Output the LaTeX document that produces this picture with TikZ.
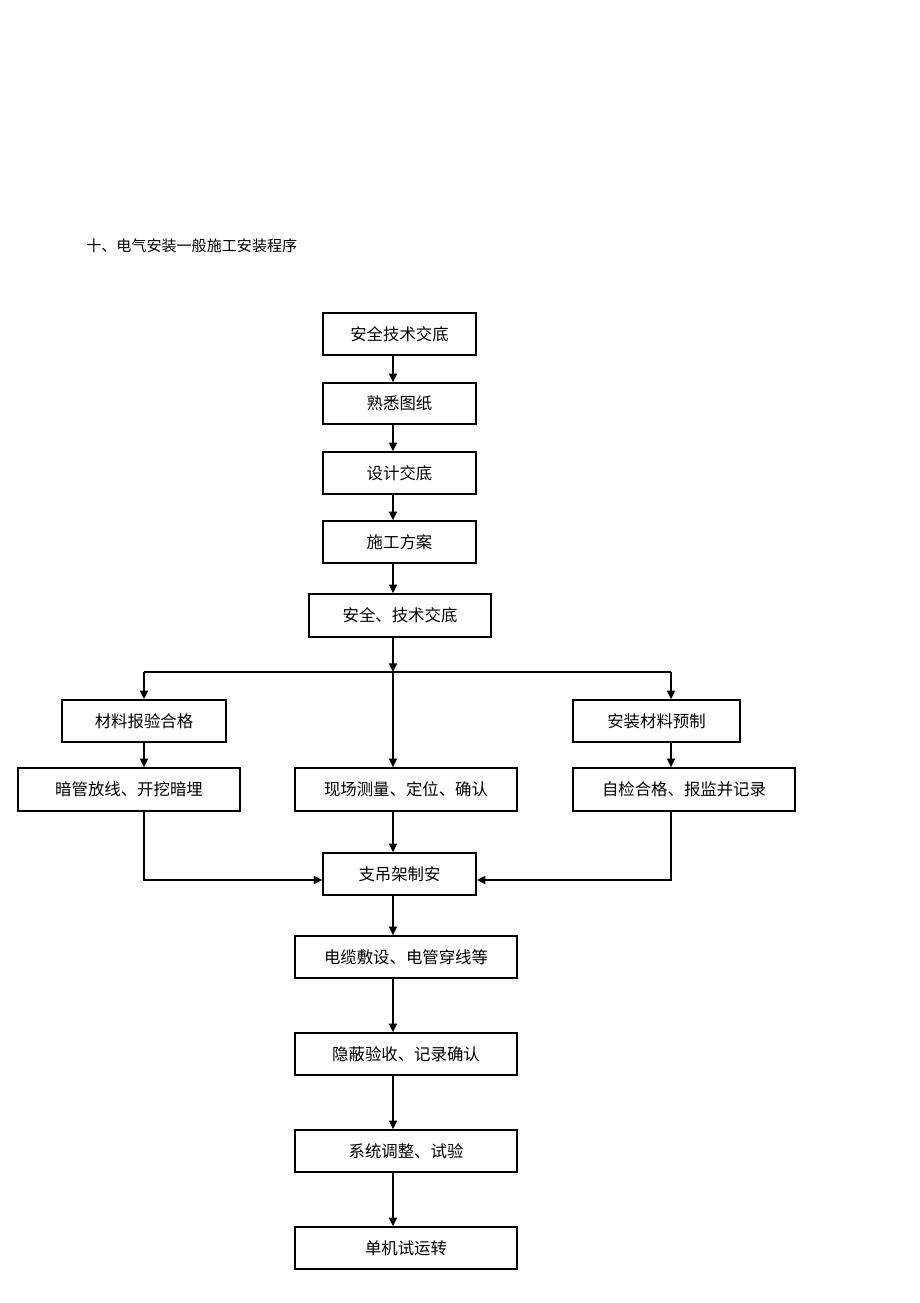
\documentclass[tikz,border=0pt]{standalone}
\usepackage{fontspec}
\newfontfamily\cjk{Noto Sans CJK SC}
\usetikzlibrary{arrows.meta}
\tikzset{
  box/.style={draw, line width=1.1pt, inner sep=0pt, align=center,
    font=\cjk\fontsize{12.3}{14}\selectfont},
  arr/.style={line width=1.3pt, -{Triangle[length=6.5pt,width=6pt]}},
  ln/.style={line width=1.3pt}
}
\newcommand\bx[6]{\node[box, minimum width=#4*0.75pt, minimum height=#5*0.75pt] (#1) at (#2,#3) {#6};}
\begin{document}
\begin{tikzpicture}[x=0.75pt,y=-0.75pt]
\useasboundingbox (0,0) rectangle (920,1303);
\node[anchor=west, inner sep=0pt, font=\cjk\fontsize{11.3}{13}\selectfont] (title) at (86,246) {十、电气安装一般施工安装程序};
\bx{a}{399.5}{334}{153}{42}{安全技术交底}
\bx{b}{399.5}{403.5}{153}{41}{熟悉图纸}
\bx{c}{399.5}{473}{153}{42}{设计交底}
\bx{d}{399.5}{542}{153}{42}{施工方案}
\bx{e}{400}{615.5}{182}{43}{安全、技术交底}
\bx{f}{144}{721}{164}{42}{材料报验合格}
\bx{g}{656.5}{721}{167}{42}{安装材料预制}
\bx{h}{129}{789.5}{222}{43}{暗管放线、开挖暗埋}
\bx{i}{406}{789.5}{222}{43}{现场测量、定位、确认}
\bx{j}{684}{789.5}{222}{43}{自检合格、报监并记录}
\bx{k}{399.5}{874}{153}{42}{支吊架制安}
\bx{l}{406}{957}{222}{42}{电缆敷设、电管穿线等}
\bx{m}{406}{1054}{222}{42}{隐蔽验收、记录确认}
\bx{n}{406}{1151}{222}{42}{系统调整、试验}
\bx{o}{406}{1248}{222}{42}{单机试运转}
\coordinate (sp) at (393,0);
\coordinate (jc) at (393,672);
\coordinate (jl) at (144,672);
\coordinate (jr) at (671,672);
\coordinate (hl) at (144,880);
\coordinate (hr) at (671,880);
\draw[arr] (a.south -| sp) -- (b.north -| sp);
\draw[arr] (b.south -| sp) -- (c.north -| sp);
\draw[arr] (c.south -| sp) -- (d.north -| sp);
\draw[arr] (d.south -| sp) -- (e.north -| sp);
\draw[arr] (e.south -| sp) -- (jc);
\draw[ln] (jl) -- (jr);
\draw[arr] (jl) -- (f.north -| jl);
\draw[arr] (jr) -- (g.north -| jr);
\draw[arr] (jc) -- (i.north -| sp);
\draw[arr] (f.south -| jl) -- (h.north -| jl);
\draw[arr] (g.south -| jr) -- (j.north -| jr);
\draw[arr] (i.south -| sp) -- (k.north -| sp);
\draw[arr] (h.south -| hl) -- (hl) -- (k.west |- hl);
\draw[arr] (j.south -| hr) -- (hr) -- (k.east |- hr);
\draw[arr] (k.south -| sp) -- (l.north -| sp);
\draw[arr] (l.south -| sp) -- (m.north -| sp);
\draw[arr] (m.south -| sp) -- (n.north -| sp);
\draw[arr] (n.south -| sp) -- (o.north -| sp);
\end{tikzpicture}
\end{document}
